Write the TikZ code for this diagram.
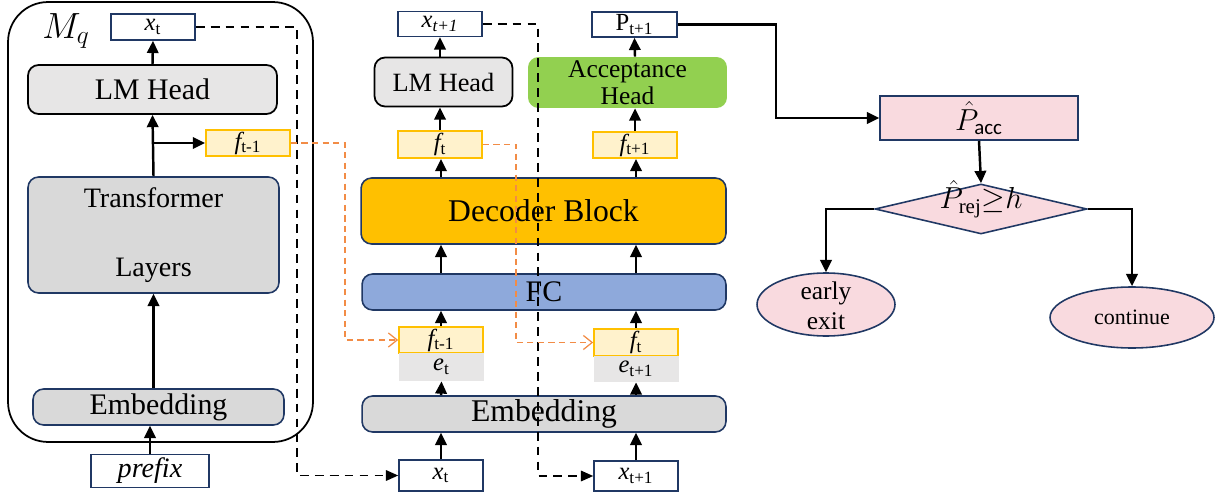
\documentclass[tikz,border=0pt]{standalone}
\usepackage{amsmath}
\usepackage{amssymb}
\usepackage{fontspec}
\setmainfont{Liberation Serif}
\setsansfont{Carlito}
\usetikzlibrary{positioning, calc, shapes.geometric, arrows.meta}
\definecolor{boxnavy}{RGB}{32,56,100}
\definecolor{lmgray}{RGB}{231,230,230}
\definecolor{blockgray}{RGB}{217,217,217}
\definecolor{featyellow}{RGB}{255,192,0}
\definecolor{featfill}{RGB}{255,242,204}
\definecolor{fcblue}{RGB}{142,169,219}
\definecolor{accgreen}{RGB}{146,208,80}
\definecolor{exitpink}{RGB}{249,218,223}
\definecolor{reuseorange}{RGB}{242,140,70}
\tikzstyle{Arrow} = [
%solid arrow between blocks
line width=1.4pt, -{Triangle[length=7pt, width=6.5pt]}
]
\tikzstyle{DashArrow} = [
%token fed back to the next step
line width=0.9pt, dash pattern=on 5pt off 3.5pt, -{Triangle[length=7pt, width=6pt]}
]
\tikzstyle{ReuseArrow} = [
%feature reused at the next step
draw=reuseorange, line width=0.7pt, dash pattern=on 3.5pt off 2.5pt, -{Straight Barb[length=5pt, width=8pt]}
]

\begin{document}
\begin{tikzpicture}[x=0.02cm, y=-0.02cm,
		token/.style = {rectangle, draw=boxnavy, line width=0.9pt, fill=white, inner sep=0pt, minimum width=1.68cm, font=\fontsize{14}{16}\selectfont},
		feature/.style = {rectangle, draw=featyellow, line width=1pt, fill=featfill, inner sep=0pt, minimum width=1.68cm, font=\fontsize{14}{16}\selectfont},
		embed/.style = {rectangle, fill=lmgray, inner sep=0pt, minimum width=1.70cm, font=\fontsize{14}{16}\selectfont},
		block/.style = {rectangle, rounded corners=6pt, draw=boxnavy, line width=0.9pt, inner sep=1pt, align=center},
		head/.style = {rectangle, rounded corners=6pt, draw, line width=1pt, fill=lmgray, inner sep=1pt},
		flow/.style = {draw=boxnavy, line width=0.9pt, fill=exitpink, inner sep=0pt},
	]
	\useasboundingbox (0,0) rectangle (1222,496);

	% draft model M_q
	\node[draw, line width=1pt, rounded corners=0.8cm, minimum width=6.1cm, minimum height=8.8cm] (MQ) at (160.5,222) {};
	\node[font=\fontsize{20}{22}\selectfont] (MQL) at (66,31) {$M_q$};
	\node[token] (XT1) at (153,27) [minimum height=0.52cm] {{\itshape x}\textsubscript{t}};
	\node[head, minimum width=4.98cm, minimum height=0.98cm, font=\fontsize{17}{20}\selectfont] (LMH1) at (152.5,89.5) {LM Head};
	\node[feature, minimum height=0.52cm] (F1) at (248,143) {{\itshape f}\textsubscript{t-1}};
	\node[block, fill=blockgray, minimum width=5.02cm, minimum height=2.32cm, font=\fontsize{16}{19}\selectfont] (TL) at (153.5,235) {Transformer\\[20pt]Layers};
	\node[block, fill=blockgray, minimum width=5.02cm, minimum height=0.72cm, font=\fontsize{17}{20}\selectfont] (EMB1) at (158.5,407) {Embedding};
	\node[token, minimum width=2.36cm, minimum height=0.66cm, font=\fontsize{16}{18}\selectfont] (PRE) at (150,471) {\itshape prefix};

	% acceptance predictor
	\node[token] (XT2) at (440,24) [minimum height=0.5cm] {{\itshape x}\textsubscript{\itshape t+1}};
	\node[head, minimum width=2.76cm, minimum height=0.98cm, font=\fontsize{15}{18}\selectfont] (LMH2) at (443.5,82) {LM Head};
	\node[feature, minimum height=0.54cm] (FT1) at (440,144.5) {{\itshape f}\textsubscript{t}};
	\node[block, fill=featyellow, minimum width=7.3cm, minimum height=1.32cm, font=\fontsize{18}{21}\selectfont] (DEC) at (543.5,211) {Decoder Block};
	\node[token] (PT) at (634.5,24.5) [minimum width=1.7cm, minimum height=0.5cm] {P\textsubscript{t+1}};
	\node[rectangle, rounded corners=6pt, fill=accgreen, inner sep=0pt, align=center, minimum width=3.98cm, minimum height=1.02cm, font=\fontsize{14.5}{15.5}\selectfont] (ACC) at (627.5,82.5) {Acceptance\\Head};
	\node[feature, minimum height=0.52cm] (FT2) at (635,145) {{\itshape f}\textsubscript{t+1}};
	\node[block, fill=fcblue, minimum width=7.28cm, minimum height=0.72cm, font=\fontsize{17}{20}\selectfont] (FC) at (544,292) {FC};
	\node[feature, minimum height=0.52cm] (F3) at (441,340) {{\itshape f}\textsubscript{t-1}};
	\node[embed, minimum height=0.56cm] (ET) at (441.5,367) {{\itshape e}\textsubscript{t}};
	\node[feature, minimum height=0.54cm] (F4) at (636,342.5) {{\itshape f}\textsubscript{t}};
	\node[embed, minimum height=0.52cm] (ET1) at (636,369) {{\itshape e}\textsubscript{t+1}};
	\node[block, fill=blockgray, minimum width=7.28cm, minimum height=0.72cm, font=\fontsize{18}{21}\selectfont] (EMB2) at (544,414) {Embedding};
	\node[token, minimum height=0.62cm] (XB1) at (441,475.5) {{\itshape x}\textsubscript{t}};
	\node[token, minimum height=0.6cm] (XB2) at (636,476) {{\itshape x}\textsubscript{t+1}};

	% exit decision
	\node[flow, rectangle, minimum width=3.96cm, minimum height=0.88cm, font=\fontsize{17}{20}\selectfont] (PACC) at (979,118) {$\hat{P}_{\text{\sffamily acc}}$};
	\node[flow, diamond, aspect=4.24, minimum width=4.24cm, minimum height=1.0cm, font=\fontsize{17}{20}\selectfont] (DIA) at (981,209) {$\smash{\hat{P}_{\text{rej}}{\geq}h}$};
	\node[flow, ellipse, minimum width=2.76cm, minimum height=1.26cm, font=\fontsize{14.5}{17}\selectfont] (EE) at (826,304.5) {\smash{\raisebox{-6pt}{\begin{tabular}{@{}c@{}}early\\exit\end{tabular}}}};
	\node[flow, ellipse, minimum width=3.28cm, minimum height=1.22cm, font=\fontsize{12.5}{15}\selectfont] (CONT) at (1132,317.5) {continue};

	\coordinate (K1) at (297,27);
	\coordinate (K2) at (538,24);
	\coordinate (K3) at (345,143);
	\coordinate (K4) at (516,144.5);
	\coordinate (K5) at (776,24.5);

	\draw[Arrow](PRE.north)--(PRE.north |- EMB1.south);
	\draw[Arrow](TL.south |- EMB1.north)--(TL.south);
	\draw[Arrow](TL.north)--(LMH1.south);
	\draw[Arrow](TL.north |- F1.west)--(F1.west);
	\draw[Arrow](LMH1.north)--(XT1.south);

	\draw[Arrow](XB1.north)--(XB1.north |- EMB2.south);
	\draw[Arrow](XB1.north |- EMB2.north)--(ET.south);
	\draw[Arrow](F3.north)--(F3.north |- FC.south);
	\draw[Arrow](F3.north |- FC.north)--(F3.north |- DEC.south);
	\draw[Arrow](F3.north |- DEC.north)--(F3.north |- FT1.south);
	\draw[Arrow](FT1.north)--(FT1.north |- LMH2.south);
	\draw[Arrow](FT1.north |- LMH2.north)--(XT2.south);

	\draw[Arrow](XB2.north)--(XB2.north |- EMB2.south);
	\draw[Arrow](XB2.north |- EMB2.north)--(ET1.south);
	\draw[Arrow](F4.north)--(F4.north |- FC.south);
	\draw[Arrow](F4.north |- FC.north)--(F4.north |- DEC.south);
	\draw[Arrow](F4.north |- DEC.north)--(F4.north |- FT2.south);
	\draw[Arrow](FT2.north)--(FT2.north |- ACC.south);
	\draw[Arrow](FT2.north |- ACC.north)--(PT.south);

	\draw[DashArrow](XT1.east)--(K1) |- (XB1.west);
	\draw[DashArrow](XT2.east)--(K2) |- (XB2.west);
	\draw[ReuseArrow](F1.east)--(K3) |- (F3.west);
	\draw[ReuseArrow](FT1.east)--(K4) |- (F4.west);

	\draw[Arrow](PT.east)--(K5) |- (PACC.west);
	\draw[Arrow](PACC.south)--(DIA.north);
	\draw[Arrow](DIA.west) -| (EE.north);
	\draw[Arrow](DIA.east) -| (CONT.north);
\end{tikzpicture}
\end{document}
